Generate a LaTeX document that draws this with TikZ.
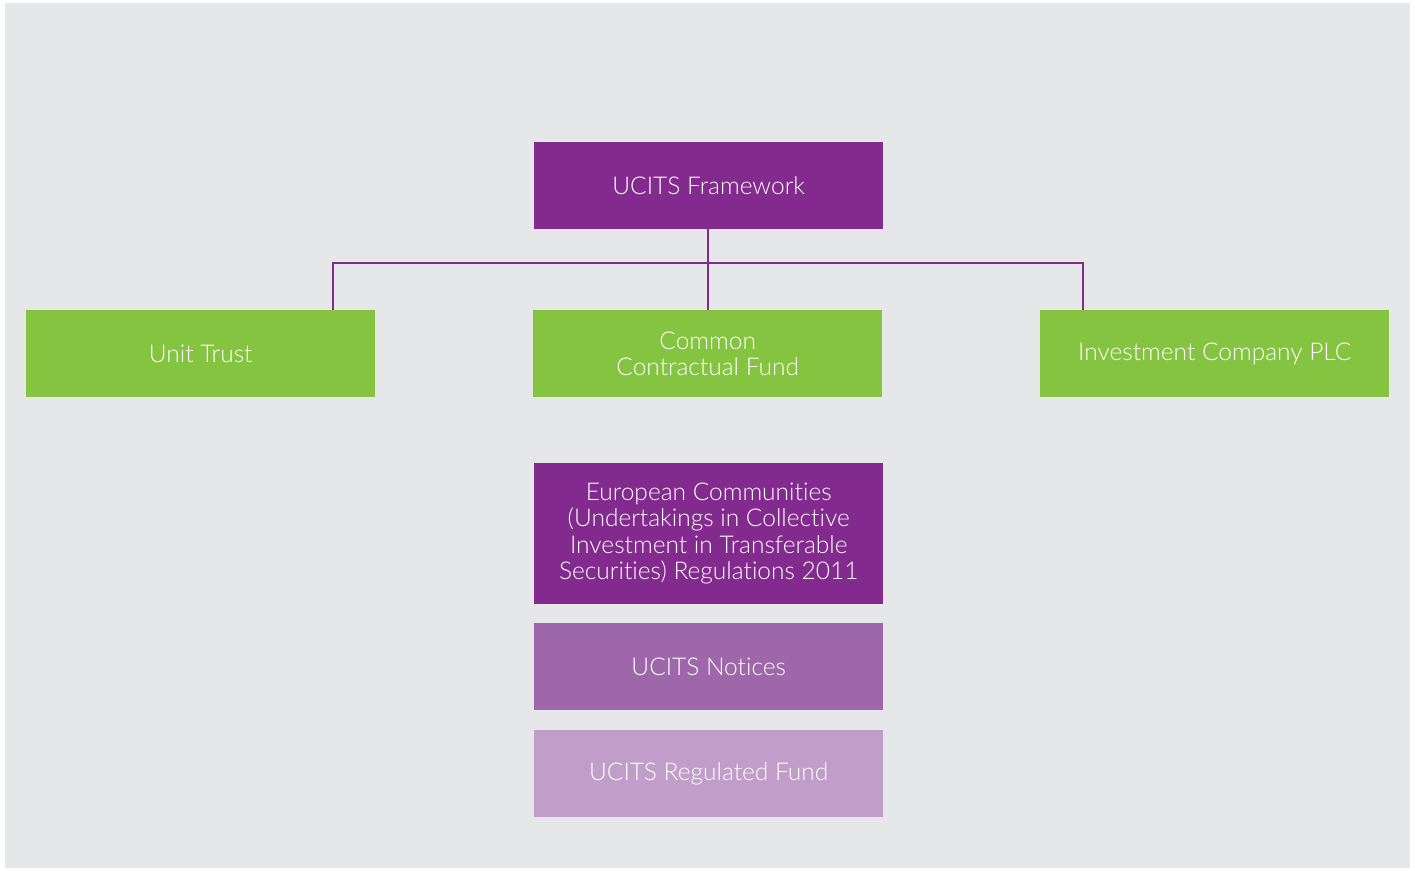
\documentclass[tikz,border=0pt]{standalone}
\usepackage{fontspec}
\setmainfont{Lato}[UprightFont=* Light,RawFeature={-liga}]
\definecolor{bggray}{HTML}{E6E7E8}
\definecolor{purp}{HTML}{832A8E}
\definecolor{midpurp}{HTML}{9E67AA}
\definecolor{lightpurp}{HTML}{C19DCA}
\definecolor{grn}{HTML}{85C440}
\begin{document}
\begin{tikzpicture}[x=1pt,y=-1pt,
  box/.style={minimum width=349pt,minimum height=87pt,inner sep=0pt,text=white,align=center,
    font=\fontsize{24.5}{26.5}\selectfont, anchor=north west},
  conn/.style={draw=purp,line width=2.4pt}]
\useasboundingbox (0,0) rectangle (1415,870);
\fill[white] (0,0) rectangle (1415,870);
\fill[bggray] (5,3) rectangle (1410,868);
\node[box,fill=purp] (fw) at (534,142) {UCITS Framework};
\node[box,fill=grn] (ut) at (26,310) {Unit Trust};
\node[box,fill=grn] (ccf) at (533,310) {Common\\Contractual Fund};
\node[box,fill=grn] (ic) at (1040,310) {Investment Company PLC};
\node[box,fill=purp,minimum height=141pt] (eu) at (534,463) {European Communities\\(Undertakings in Collective\\Investment in Transferable\\Securities) Regulations 2011};
\node[box,fill=midpurp] (nt) at (534,623) {UCITS Notices};
\node[box,fill=lightpurp] (rf) at (534,730) {UCITS Regulated Fund};
\coordinate (j) at (708,263);
\draw[conn] (fw.south -| j) -- (ccf.north -| j);
\draw[conn] (ut.north -| 333,0) |- (j) -| (ic.north -| 1083,0);
\end{tikzpicture}
\end{document}
